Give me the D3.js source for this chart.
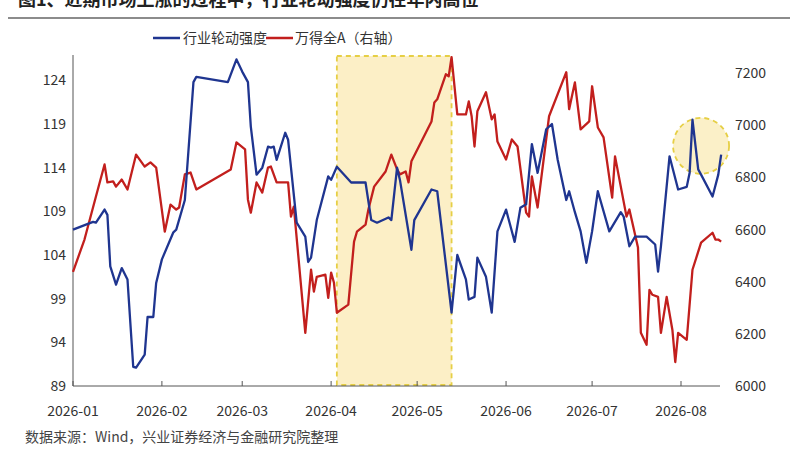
<!DOCTYPE html>
<html><head><meta charset="utf-8">
<script src="https://cdn.jsdelivr.net/npm/d3@7"></script>
<style>body{margin:0;background:#fff}text{font-family:"Noto Sans CJK SC","Noto Sans",sans-serif}</style>
</head><body><svg id="c" width="800" height="450"></svg>
<script>
const title = "图1、近期市场上涨的过程中，行业轮动强度仍在年内高位";
const source = "数据来源：Wind，兴业证券经济与金融研究院整理";
const seriesNames = ["行业轮动强度", "万得全A（右轴）"];
const monthTicks = ["2026-01","2026-02","2026-03","2026-04","2026-05","2026-06","2026-07","2026-08"];
const leftTicks = [89,94,99,104,109,114,119,124];
const rightTicks = [6000,6200,6400,6600,6800,7000,7200];
// day offsets from 2026-01-01
const blueDays = [0,7,8,11,12,13,15,17,19,21,22,25,26,28,29,31,35,36,39,42,43,54,57,59,61,62,64,66,68,69,70,71,74,75,78,81,82,83,85,89,90,92,97,98,102,104,106,110,111,113,114,118,119,125,127,132,134,137,138,140,141,144,146,148,151,154,156,158,160,162,165,167,169,172,173,175,177,179,181,183,187,191,192,194,196,200,203,204,205,208,211,214,215,216,218,219,223,225,226];
const blueValues = [106.9,107.8,107.7,109.2,108.6,102.7,100.6,102.5,101.2,91.2,91.1,92.6,96.9,96.9,100.8,103.5,106.6,106.9,110.3,123.8,124.4,123.8,126.4,125,123.8,118.7,113.2,114,116.4,116.3,116.4,114.9,118,117.2,107.7,106.1,103.2,103.7,108,113,112.6,114.1,112.3,112.3,112.3,108,107.7,108.3,108,114,112.6,104.6,108,111.5,111.3,97.4,104,101.2,98.9,99.2,103.7,101.5,97.4,106.7,109.2,105.5,109.4,109.8,116.7,113.4,118.4,119,114.9,110.3,111.3,108.9,106.7,103.1,106.7,111.3,106.7,108.9,108.4,105,106.1,106.1,105.2,102.1,105,115.3,111.5,111.8,113.4,119.5,113.8,113.2,110.7,113.2,115.5];
const redDays = [0,4,8,11,12,14,15,17,19,22,25,27,29,32,34,36,37,39,41,43,55,57,60,61,62,64,66,68,69,71,75,76,77,81,83,84,85,88,89,90,91,92,96,98,99,102,103,105,109,111,113,114,116,117,118,125,126,127,130,131,132,134,137,138,139,140,141,144,146,147,148,151,153,155,158,159,160,162,166,172,173,175,177,180,181,183,185,188,189,193,194,197,198,200,201,202,204,205,207,209,210,211,214,216,219,223,224,225,226];
const redValues = [6438,6562,6727,6850,6781,6785,6765,6792,6754,6888,6842,6858,6838,6592,6696,6677,6685,6812,6819,6754,6831,6935,6908,6715,6665,6781,6742,6838,6842,6781,6781,6650,6688,6204,6446,6362,6419,6427,6338,6435,6396,6281,6312,6554,6592,6619,6677,6765,6823,6888,6831,6812,6823,6781,6862,7015,7088,7100,7196,7188,7262,7042,7042,7092,7035,6919,7054,7127,7023,7042,6938,6869,6946,6919,6665,6650,6804,6685,7035,7204,7062,7165,6985,7015,7150,6992,6954,6723,6881,6650,6677,6531,6204,6158,6369,6350,6342,6204,6342,6215,6092,6204,6177,6446,6550,6588,6562,6562,6554];
const shadeDays = [92,132];

const svg = d3.select("#c");
const start = new Date(2026,0,1);
const dt = d => d3.timeDay.offset(start, d);
const x = d3.scaleTime().domain([start, new Date(2026,7,1)]).range([73,681]);
const yL = d3.scaleLinear().domain([89,126.9]).range([386,55]);
const yR = d3.scaleLinear().domain([6000,7270]).range([386,55]);

svg.append("text").attr("x",18).attr("y",6).attr("font-size",18).attr("font-weight","bold").attr("fill","#222").text(title);
svg.append("line").attr("x1",8).attr("x2",790).attr("y1",18).attr("y2",18).attr("stroke","#666").attr("stroke-width",1.5);

// shaded area
svg.append("rect").attr("x",x(dt(shadeDays[0]))).attr("y",56).attr("width",x(dt(shadeDays[1]))-x(dt(shadeDays[0]))).attr("height",329)
  .attr("fill","#fcefc6").attr("stroke","#e6cf45").attr("stroke-width",1.8).attr("stroke-dasharray","5,4");
svg.append("circle").attr("cx",x(dt(219))).attr("cy",yL(116.5)).attr("r",28)
  .attr("fill","#fbf0c8").attr("stroke","#e6cf45").attr("stroke-width",1.8).attr("stroke-dasharray","5,4");

// axes
svg.append("line").attr("x1",73).attr("x2",73).attr("y1",55).attr("y2",386).attr("stroke","#555");
svg.append("line").attr("x1",73).attr("x2",720).attr("y1",386).attr("y2",386).attr("stroke","#555");
monthTicks.forEach(m=>{
  const d = d3.timeParse("%Y-%m")(m); const px = x(d);
  svg.append("line").attr("x1",px).attr("x2",px).attr("y1",386).attr("y2",381).attr("stroke","#555");
  svg.append("text").attr("x",px).attr("y",416).attr("text-anchor","middle").attr("font-size",14).attr("fill","#333").text(m);
});
leftTicks.forEach(v=>svg.append("text").attr("x",66).attr("y",yL(v)+5).attr("text-anchor","end").attr("font-size",14).attr("fill","#333").text(v));
rightTicks.forEach(v=>svg.append("text").attr("x",735).attr("y",yR(v)+5).attr("font-size",14).attr("fill","#333").text(v));

const lineB = d3.line().x((d,i)=>x(dt(blueDays[i]))).y(d=>yL(d));
const lineR = d3.line().x((d,i)=>x(dt(redDays[i]))).y(d=>yR(d));
svg.append("path").attr("d",lineR(redValues)).attr("fill","none").attr("stroke","#c21f1d").attr("stroke-width",2.3).attr("stroke-linejoin","round");
svg.append("path").attr("d",lineB(blueValues)).attr("fill","none").attr("stroke","#1f3590").attr("stroke-width",2.3).attr("stroke-linejoin","round");

// legend
svg.append("line").attr("x1",153).attr("x2",180).attr("y1",38).attr("y2",38).attr("stroke","#1f3590").attr("stroke-width",2.5);
svg.append("text").attr("x",183).attr("y",43).attr("font-size",14).attr("fill","#333").text(seriesNames[0]);
svg.append("line").attr("x1",266).attr("x2",293).attr("y1",38).attr("y2",38).attr("stroke","#c21f1d").attr("stroke-width",2.5);
svg.append("text").attr("x",295).attr("y",43).attr("font-size",14).attr("fill","#333").text(seriesNames[1]);

svg.append("text").attr("x",25).attr("y",442).attr("font-size",14).attr("fill","#444").text(source);
</script></body></html>
